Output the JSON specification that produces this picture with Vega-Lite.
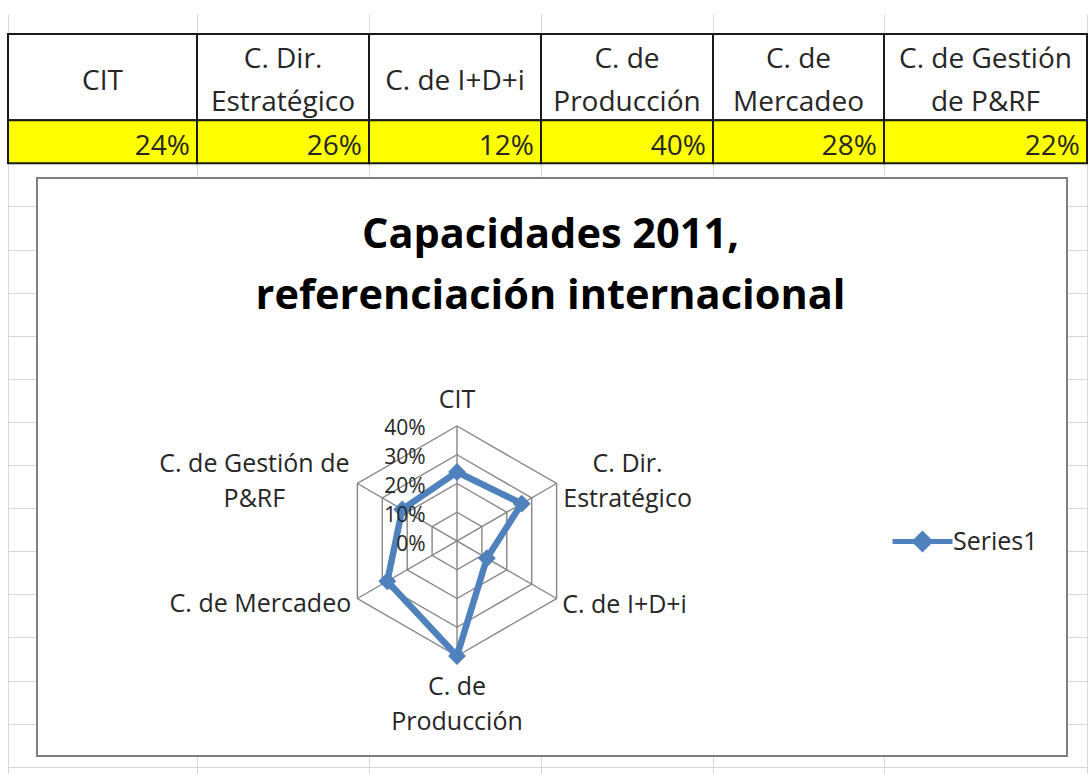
{
  "$schema": "https://vega.github.io/schema/vega-lite/v6.json",
  "width": 1089,
  "height": 760,
  "autosize": {"type": "none"},
  "padding": {"top": 14, "left": 0, "right": 0, "bottom": 0},
  "background": "white",
  "config": {"view": {"stroke": null}, "font": "Open Sans"},
  "title": {
    "text": ["Capacidades 2011,", "referenciación internacional"],
    "font": "Open Sans",
    "fontSize": 41.5,
    "fontWeight": "bold",
    "color": "#000000",
    "anchor": "middle",
    "frame": "group",
    "offset": -336,
    "baseline": "alphabetic",
    "lineHeight": 61,
    "dx": 6
  },
  "datasets": {
    "cats": [
      {"k": 0, "label": "CIT", "chartLabel": "CIT", "value": 0.24},
      {"k": 1, "label": "C. Dir.\nEstratégico", "chartLabel": "C. Dir.\nEstratégico", "value": 0.26},
      {"k": 2, "label": "C. de I+D+i", "chartLabel": "C. de I+D+i", "value": 0.12},
      {"k": 3, "label": "C. de\nProducción", "chartLabel": "C. de\nProducción", "value": 0.40},
      {"k": 4, "label": "C. de\nMercadeo", "chartLabel": "C. de Mercadeo", "value": 0.28},
      {"k": 5, "label": "C. de Gestión\nde P&RF", "chartLabel": "C. de Gestión de\nP&RF", "value": 0.22}
    ],
    "grid": [
      {"level": 0.1, "k": 0}, {"level": 0.1, "k": 1}, {"level": 0.1, "k": 2}, {"level": 0.1, "k": 3}, {"level": 0.1, "k": 4}, {"level": 0.1, "k": 5},
      {"level": 0.2, "k": 0}, {"level": 0.2, "k": 1}, {"level": 0.2, "k": 2}, {"level": 0.2, "k": 3}, {"level": 0.2, "k": 4}, {"level": 0.2, "k": 5},
      {"level": 0.3, "k": 0}, {"level": 0.3, "k": 1}, {"level": 0.3, "k": 2}, {"level": 0.3, "k": 3}, {"level": 0.3, "k": 4}, {"level": 0.3, "k": 5},
      {"level": 0.4, "k": 0}, {"level": 0.4, "k": 1}, {"level": 0.4, "k": 2}, {"level": 0.4, "k": 3}, {"level": 0.4, "k": 4}, {"level": 0.4, "k": 5}
    ]
  },
  "layer": [
    {
      "data": {"name": "cats"},
      "transform": [{"calculate": "datum.k + 1", "as": "k1"}],
      "mark": {"type": "rect", "fill": "white", "stroke": "#1a1a1a", "strokeWidth": 2},
      "encoding": {
        "x": {"field": "k", "type": "quantitative", "scale": {"domain": [0,1,2,3,4,5,6], "range": [8,197,369,541,713,884,1087], "nice": false, "zero": false}, "axis": {"orient": "bottom", "values": [0,1,2,3,4,5,6], "grid": true, "gridColor": "#d3d7de", "gridWidth": 1, "labels": false, "ticks": false, "domain": false, "title": null}},
        "x2": {"field": "k1"},
        "y": {"datum": 0, "type": "quantitative", "scale": {"domain": [-0.464, 17.169], "reverse": true, "nice": false, "zero": false}, "axis": {"orient": "left", "values": [0,1,2,3,4,5,6,7,8,9,10,11,12,13,14,15,16,17], "grid": true, "gridColor": "#d3d7de", "gridWidth": 1, "labels": false, "ticks": false, "domain": false, "title": null}},
        "y2": {"datum": 2}
      }
    },
    {
      "data": {"name": "cats"},
      "transform": [{"calculate": "datum.k + 1", "as": "k1"}],
      "mark": {"type": "rect", "fill": "#ffff00", "stroke": "#1a1a1a", "strokeWidth": 2},
      "encoding": {
        "x": {"field": "k", "type": "quantitative", "scale": {"domain": [0,1,2,3,4,5,6], "range": [8,197,369,541,713,884,1087], "nice": false, "zero": false}, "axis": null},
        "x2": {"field": "k1"},
        "y": {"datum": 2, "type": "quantitative", "scale": {"domain": [-0.464, 17.169], "reverse": true, "nice": false, "zero": false}, "axis": null},
        "y2": {"datum": 3}
      }
    },
    {
      "data": {"name": "cats"},
      "transform": [{"calculate": "datum.k + 0.5", "as": "kc"}],
      "mark": {"type": "text", "font": "Open Sans", "fontSize": 28, "color": "#262626", "lineBreak": "\n", "lineHeight": 43, "baseline": "middle", "align": "center", "dy": {"expr": "indexof(datum.label, '\\n') >= 0 ? -22.5 : 0"}},
      "encoding": {
        "x": {"field": "kc", "type": "quantitative", "scale": {"domain": [0,1,2,3,4,5,6], "range": [8,197,369,541,713,884,1087], "nice": false, "zero": false}, "axis": null},
        "y": {"datum": 1.12, "type": "quantitative", "scale": {"domain": [-0.464, 17.169], "reverse": true, "nice": false, "zero": false}, "axis": null},
        "text": {"field": "label", "type": "nominal"}
      }
    },
    {
      "data": {"name": "cats"},
      "transform": [{"calculate": "datum.k + 1", "as": "k1"}],
      "mark": {"type": "text", "font": "Open Sans", "fontSize": 28, "color": "#262626", "baseline": "middle", "align": "right", "dx": -7},
      "encoding": {
        "x": {"field": "k1", "type": "quantitative", "scale": {"domain": [0,1,2,3,4,5,6], "range": [8,197,369,541,713,884,1087], "nice": false, "zero": false}, "axis": null},
        "y": {"datum": 2.63, "type": "quantitative", "scale": {"domain": [-0.464, 17.169], "reverse": true, "nice": false, "zero": false}, "axis": null},
        "text": {"field": "value", "type": "quantitative", "format": ".0%"}
      }
    },
    {
      "data": {"values": [{"panel": "chart"}]},
      "mark": {"type": "rect", "fill": "white", "stroke": "#7f7f7f", "strokeWidth": 2},
      "encoding": {
        "x": {"datum": -1.4609, "type": "quantitative", "scale": {"domain": [-1.5896, 2.1983], "nice": false, "zero": false}, "axis": null},
        "x2": {"datum": 2.1217},
        "y": {"datum": -0.7479, "type": "quantitative", "scale": {"domain": [-0.8104, 1.8330], "nice": false, "zero": false}, "axis": null},
        "y2": {"datum": 1.2626}
      }
    },
    {
      "data": {"name": "grid"},
      "transform": [
        {"calculate": "datum.level * sin(datum.k * PI / 3)", "as": "gx"},
        {"calculate": "datum.level * cos(datum.k * PI / 3)", "as": "gy"}
      ],
      "mark": {"type": "line", "interpolate": "linear-closed", "stroke": "#868686", "strokeWidth": 1.4},
      "encoding": {
        "x": {"field": "gx", "type": "quantitative", "scale": {"domain": [-1.5896, 2.1983], "nice": false, "zero": false}, "axis": null},
        "y": {"field": "gy", "type": "quantitative", "scale": {"domain": [-0.8104, 1.8330], "nice": false, "zero": false}, "axis": {"orient": "left", "offset": -457, "values": [0, 0.1, 0.2, 0.3, 0.4], "format": ".0%", "grid": false, "ticks": false, "domain": false, "labelPadding": 32, "labelOffset": 3, "labelFont": "Open Sans", "labelFontSize": 21, "labelColor": "#262626", "labelOverlap": false, "title": null, "zindex": 1}},
        "detail": {"field": "level", "type": "nominal"},
        "order": {"field": "k", "type": "quantitative"}
      }
    },
    {
      "data": {"name": "cats"},
      "transform": [
        {"filter": "datum.k < 3"},
        {"calculate": "0.4 * sin(datum.k * PI / 3)", "as": "ex"},
        {"calculate": "0.4 * cos(datum.k * PI / 3)", "as": "ey"},
        {"calculate": "-datum.ex", "as": "nx"},
        {"calculate": "-datum.ey", "as": "ny"}
      ],
      "mark": {"type": "rule", "stroke": "#868686", "strokeWidth": 1.4},
      "encoding": {
        "x": {"field": "ex", "type": "quantitative", "scale": {"domain": [-1.5896, 2.1983], "nice": false, "zero": false}, "axis": null},
        "y": {"field": "ey", "type": "quantitative", "scale": {"domain": [-0.8104, 1.8330], "nice": false, "zero": false}, "axis": null},
        "x2": {"field": "nx"},
        "y2": {"field": "ny"}
      }
    },
    {
      "data": {"name": "cats"},
      "transform": [
        {"calculate": "datum.value * sin(datum.k * PI / 3)", "as": "px"},
        {"calculate": "datum.value * cos(datum.k * PI / 3)", "as": "py"}
      ],
      "mark": {"type": "line", "interpolate": "linear-closed", "strokeWidth": 6.5},
      "encoding": {
        "x": {"field": "px", "type": "quantitative", "scale": {"domain": [-1.5896, 2.1983], "nice": false, "zero": false}, "axis": null},
        "y": {"field": "py", "type": "quantitative", "scale": {"domain": [-0.8104, 1.8330], "nice": false, "zero": false}, "axis": null},
        "order": {"field": "k", "type": "quantitative"},
        "color": {
          "datum": "Series1",
          "type": "nominal",
          "scale": {"range": ["#4f81bd"]},
          "legend": {
            "orient": "none",
            "legendX": 905,
            "legendY": 510,
            "title": null,
            "padding": 0,
            "symbolType": "M-2,0L2,0M0,-0.5L0.5,0L0,0.5L-0.5,0Z",
            "symbolSize": 900,
            "symbolStrokeWidth": 5,
            "symbolFillColor": "#4f81bd",
            "symbolStrokeColor": "#4f81bd",
            "labelFont": "Open Sans",
            "labelFontSize": 25,
            "labelColor": "#262626",
            "labelOffset": 13
          }
        }
      }
    },
    {
      "data": {"name": "cats"},
      "transform": [
        {"calculate": "datum.value * sin(datum.k * PI / 3)", "as": "px"},
        {"calculate": "datum.value * cos(datum.k * PI / 3)", "as": "py"}
      ],
      "mark": {"type": "point", "shape": "diamond", "filled": true, "size": 320, "color": "#4f81bd", "opacity": 1},
      "encoding": {
        "x": {"field": "px", "type": "quantitative", "scale": {"domain": [-1.5896, 2.1983], "nice": false, "zero": false}, "axis": null},
        "y": {"field": "py", "type": "quantitative", "scale": {"domain": [-0.8104, 1.8330], "nice": false, "zero": false}, "axis": null}
      }
    },
    {
      "data": {"name": "cats"},
      "transform": [
        {"calculate": "0.4 * sin(datum.k * PI / 3)", "as": "lx"},
        {"calculate": "0.4 * cos(datum.k * PI / 3)", "as": "ly"}
      ],
      "mark": {
        "type": "text",
        "font": "Open Sans",
        "fontSize": 25,
        "color": "#262626",
        "lineBreak": "\n",
        "lineHeight": 35,
        "align": "center",
        "baseline": "alphabetic",
        "dx": {"expr": "[0, 71, 68, 0, -97, -103][datum.k]"},
        "dy": {"expr": "[-18, -11.5, 14.5, 39, 13.5, -11.5][datum.k]"}
      },
      "encoding": {
        "x": {"field": "lx", "type": "quantitative", "scale": {"domain": [-1.5896, 2.1983], "nice": false, "zero": false}, "axis": null},
        "y": {"field": "ly", "type": "quantitative", "scale": {"domain": [-0.8104, 1.8330], "nice": false, "zero": false}, "axis": null},
        "text": {"field": "chartLabel", "type": "nominal"}
      }
    }
  ],
  "resolve": {"scale": {"x": "independent", "y": "independent"}}
}
